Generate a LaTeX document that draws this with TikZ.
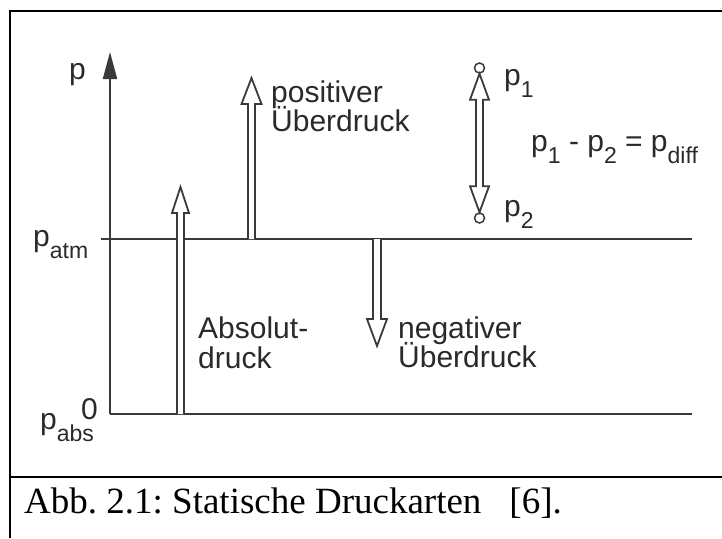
\documentclass[tikz,border=0pt]{standalone}
\usepackage{fontspec}
\usetikzlibrary{arrows.meta,calc}
\newfontfamily\dsans{Liberation Sans}
\newfontfamily\dserif{Liberation Serif}
\definecolor{linegray}{HTML}{3A3A3A}
\definecolor{txtgray}{HTML}{2A2A2A}
\frenchspacing
\newcommand{\sbs}[1]{\raisebox{-12pt}{\fontsize{23}{23}\selectfont #1}}
% up arrow: #1 base, #2 tip, #3 half shaft, #4 half head, #5 head length
\newcommand{\hollowup}[5]{%
  \draw[hollow] let \p1=(#1), \p2=(#2) in
    (\x1-#3,\y1) -- (\x1-#3,\y2-#5) -- (\x1-#4,\y2-#5) -- (\x2,\y2)
    -- (\x1+#4,\y2-#5) -- (\x1+#3,\y2-#5) -- (\x1+#3,\y1);}
\newcommand{\hollowdown}[5]{%
  \draw[hollow] let \p1=(#1), \p2=(#2) in
    (\x1-#3,\y1) -- (\x1-#3,\y2+#5) -- (\x1-#4,\y2+#5) -- (\x2,\y2)
    -- (\x1+#4,\y2+#5) -- (\x1+#3,\y2+#5) -- (\x1+#3,\y1);}
\begin{document}
\begin{tikzpicture}[x=1pt,y=-1pt,
  frame/.style={line width=2.5pt,black},
  hline/.style={line width=2pt,linegray},
  hollow/.style={line width=1.8pt,linegray,fill=white,line join=miter},
  lab/.style={inner sep=0pt,anchor=base west,font=\dsans\fontsize{30}{30}\selectfont,text=txtgray},
  captext/.style={inner sep=0pt,anchor=base west,font=\dserif\fontsize{37}{37}\selectfont,text=black},
  ptcircle/.style={circle,draw=linegray,line width=1.5pt,fill=white,minimum size=10pt,inner sep=0pt}]
\useasboundingbox (0,0) rectangle (722,538);
% frame
\coordinate (fTL) at (10,11);
\coordinate (fTR) at (722,11);
\coordinate (fBL) at (10,538);
\coordinate (sL) at (10,477);
\coordinate (sR) at (722,477);
\draw[frame] (fTR) -- (fTL) -- (fBL);
\draw[frame] (sL) -- (sR);
% axes and levels
\coordinate (origin) at (110,414);
\coordinate (axtop) at (110,52);
\coordinate (atmL) at (101,239);
\coordinate (atmR) at (692,239);
\coordinate (absR) at (692,414);
\draw[hline] (atmL) -- (atmR);
\draw[hline] (origin) -- (absR);
\draw[hline,-{Triangle[length=27pt,width=14pt]}] (origin) -- (axtop);
% hollow arrows
\coordinate (absB) at (180.5,414);
\coordinate (absT) at (180.5,187);
\hollowup{absB}{absT}{3.5pt}{8.5pt}{26pt}
\coordinate (posB) at (251.5,239);
\coordinate (posT) at (251.5,78);
\hollowup{posB}{posT}{3.5pt}{10pt}{26pt}
\coordinate (negB) at (377,239);
\coordinate (negT) at (377,346);
\hollowdown{negB}{negT}{4pt}{10pt}{27pt}
% differential pressure
\node[ptcircle] (c1) at (479.5,68) {};
\node[ptcircle] (c2) at (479.5,218) {};
\draw[hollow] let \p1=(c1.south), \p2=(c2.north) in
  (\x2,\y2) -- (\x2-9.5pt,\y2+26pt) -- (\x2-3.5pt,\y2+26pt) -- (\x1-3.5pt,\y1-26pt)
  -- (\x1-9.5pt,\y1-26pt) -- (\x1,\y1) -- (\x1+9.5pt,\y1-26pt) -- (\x1+3.5pt,\y1-26pt)
  -- (\x2+3.5pt,\y2+26pt) -- (\x2+9.5pt,\y2+26pt) -- cycle;
% labels
\node[lab] (lp) at (69,79) {p};
\node[lab] (latm) at (33,246) {p\sbs{atm}};
\node[lab] (labs) at (40,429) {p\sbs{abs}};
\node[lab] (lzero) at (81,419) {0};
\node[lab] (lpos1) at (271,102) {positiver};
\node[lab] (lpos2) at (271,131) {Überdruck};
\node[lab] (labs1) at (198,338) {Absolut-};
\node[lab] (labs2) at (198,368) {druck};
\node[lab] (lneg1) at (398,338) {negativer};
\node[lab] (lneg2) at (398,367) {Überdruck};
\node[lab] (lp1) at (504,85) {p\sbs{1}};
\node[lab] (lp2) at (504,216) {p\sbs{2}};
\node[lab] (leq) at (531,151) {p\sbs{1} - p\sbs{2} = p\sbs{diff}};
% caption
\node[captext] (caption) at (24,513) {Abb. 2.1: Statische Druckarten\hspace{28pt}[6].};
\end{tikzpicture}
\end{document}
